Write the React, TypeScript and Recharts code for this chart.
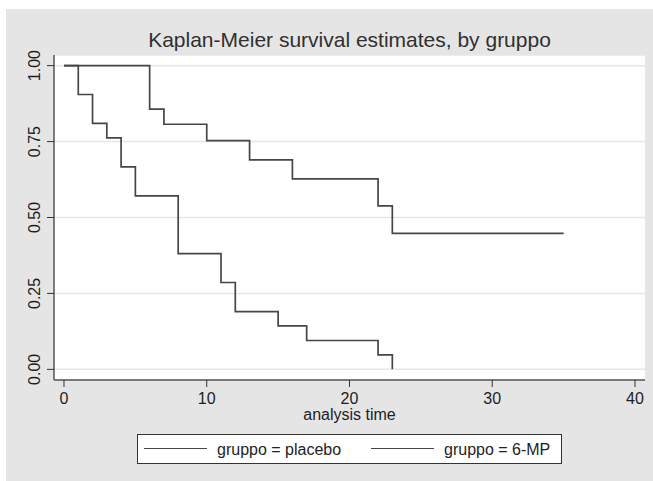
import React from 'react'
import { LineChart, Line, XAxis, YAxis, CartesianGrid } from 'recharts'

// Kaplan-Meier estimates (step points)
const placeboTime = [0, 1, 2, 3, 4, 5, 8, 11, 12, 15, 17, 22, 23]
const placeboSurv = [1, 0.905, 0.81, 0.762, 0.667, 0.571, 0.381, 0.286, 0.19, 0.143, 0.095, 0.048, 0]
const mpTime = [0, 6, 7, 10, 13, 16, 22, 23, 35]
const mpSurv = [1, 0.857, 0.807, 0.753, 0.69, 0.627, 0.538, 0.448, 0.448]

const xTicks = [0, 10, 20, 30, 40]
const yTicks = [0, 0.25, 0.5, 0.75, 1]
const yTickLabels = ['0.00', '0.25', '0.50', '0.75', '1.00']

const title = 'Kaplan-Meier survival estimates, by gruppo'
const xTitle = 'analysis time'
const legendLabels = ['gruppo = placebo', 'gruppo = 6-MP']

const placeboData = placeboTime.map((t, i) => ({ t, s: placeboSurv[i] }))
const mpData = mpTime.map((t, i) => ({ t, s: mpSurv[i] }))

const FONT = '"Liberation Sans", Arial, Helvetica, sans-serif'
const LINE = '#464646'
const TEXT = '#1e1e1e'

const YTick = (props: any) => {
  const { x, y, payload } = props
  const idx = yTicks.indexOf(payload.value)
  return (
    <text
      x={x}
      y={y}
      transform={`rotate(-90, ${x}, ${y})`}
      textAnchor="middle"
      fontSize={16}
      fill={TEXT}
      fontFamily={FONT}
    >
      {idx >= 0 ? yTickLabels[idx] : payload.value}
    </text>
  )
}

export default function App() {
  return (
    <div
      style={{
        position: 'absolute',
        left: 0,
        top: 0,
        width: 653,
        height: 481,
        background: '#ffffff',
        fontFamily: FONT,
      }}
    >
      <div style={{ position: 'absolute', left: 6, top: 9, right: 0, bottom: 0, background: '#e5e5e5' }} />
      <div style={{ position: 'absolute', left: 54, top: 55, width: 591, height: 325, background: '#ffffff' }} />

      <div
        style={{
          position: 'absolute',
          left: 54,
          width: 591,
          top: 27,
          textAlign: 'center',
          fontSize: 21,
          color: '#303030',
          lineHeight: '26px',
        }}
      >
        {title}
      </div>

      <div style={{ position: 'absolute', left: 0, top: 0 }}>
        <LineChart width={653} height={481} margin={{ top: 55, right: 8, bottom: 71, left: 0 }}>
          <CartesianGrid horizontal vertical={false} stroke="#e6e6e6" strokeWidth={1.5} />
          <XAxis
            type="number"
            dataKey="t"
            domain={[-0.7, 40.7]}
            ticks={xTicks}
            height={30}
            axisLine={{ stroke: '#555', strokeWidth: 1.5 }}
            tickLine={{ stroke: '#333' }}
            tickSize={7}
            tickMargin={6}
            tick={{ fontSize: 16, fill: TEXT, fontFamily: FONT }}
            allowDataOverflow
          />
          <YAxis
            type="number"
            dataKey="s"
            domain={[-0.035, 1.035]}
            ticks={yTicks}
            width={54}
            axisLine={{ stroke: '#555', strokeWidth: 1.5 }}
            tickLine={{ stroke: '#333' }}
            tickSize={7}
            tickMargin={7}
            tick={<YTick />}
            allowDataOverflow
          />
          <Line
            data={placeboData}
            dataKey="s"
            type="stepAfter"
            stroke={LINE}
            strokeWidth={1.7}
            dot={false}
            activeDot={false}
            isAnimationActive={false}
            name={legendLabels[0]}
          />
          <Line
            data={mpData}
            dataKey="s"
            type="stepAfter"
            stroke={LINE}
            strokeWidth={1.7}
            dot={false}
            activeDot={false}
            isAnimationActive={false}
            name={legendLabels[1]}
          />
        </LineChart>
      </div>

      <div
        style={{
          position: 'absolute',
          left: 54,
          width: 591,
          top: 409,
          textAlign: 'center',
          fontSize: 16,
          color: TEXT,
          lineHeight: '12px',
        }}
      >
        {xTitle}
      </div>

      <div
        style={{
          position: 'absolute',
          left: 137,
          top: 434,
          width: 423,
          height: 28,
          background: '#ffffff',
          border: '1px solid #333',
          fontSize: 16,
          color: TEXT,
        }}
      >
        {legendLabels.map((lab, i) => (
          <div
            key={lab}
            style={{ position: 'absolute', left: i === 0 ? 6 : 233, top: 5, display: 'flex', alignItems: 'center', height: 20 }}
          >
            <div style={{ width: 63, height: 0, borderTop: `1.5px solid ${LINE}`, marginRight: 10, marginTop: -3 }} />
            <span>{lab}</span>
          </div>
        ))}
      </div>
    </div>
  )
}
